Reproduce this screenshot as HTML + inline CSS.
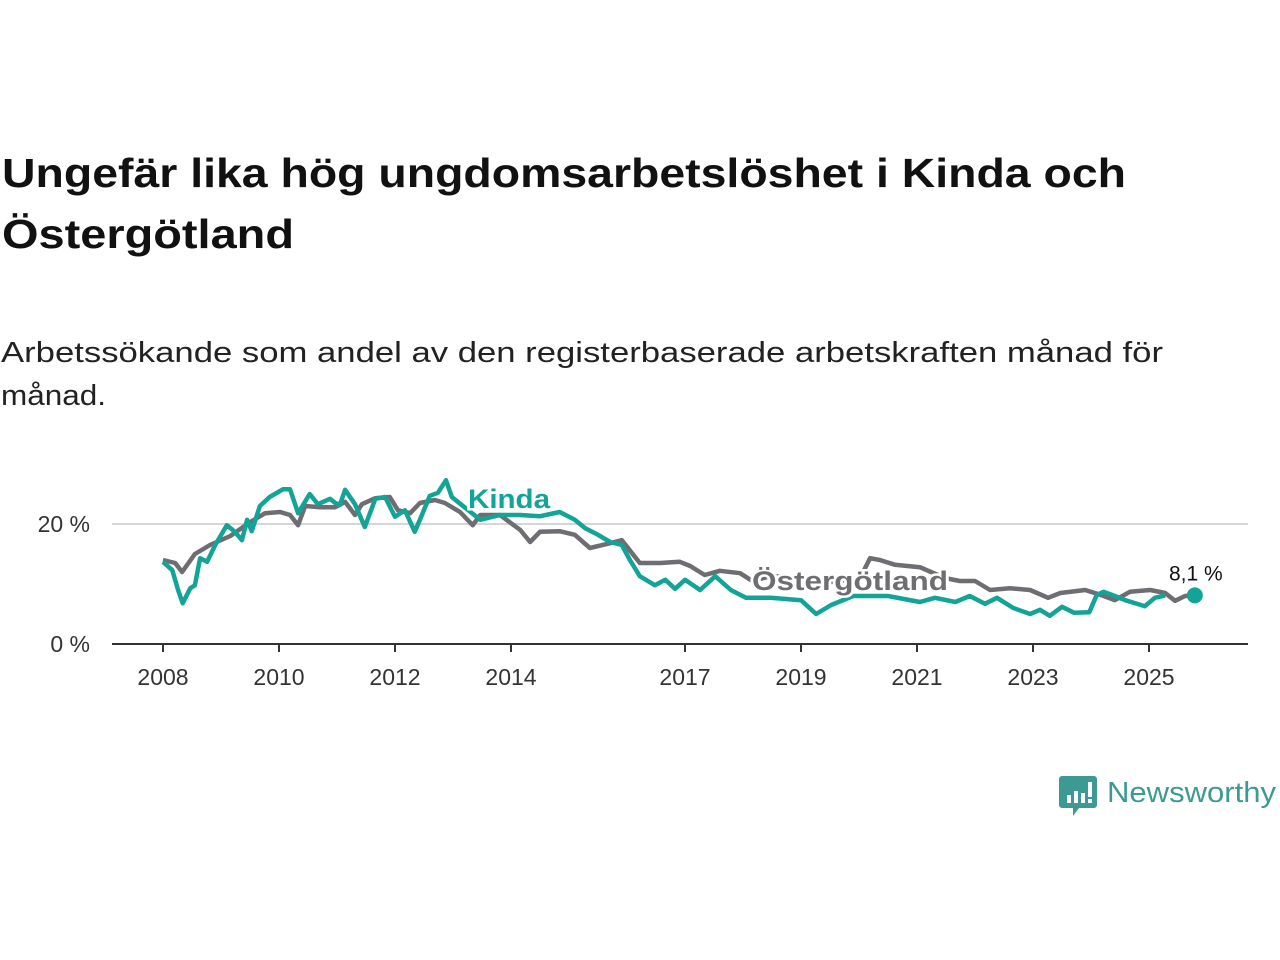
<!DOCTYPE html>
<html><head><meta charset="utf-8"><style>
html,body{margin:0;padding:0;background:#fff;}
svg{display:block;font-family:"Liberation Sans",sans-serif;}
</style></head><body>
<svg id="chart" width="1280" height="960" viewBox="0 0 1280 960" xmlns="http://www.w3.org/2000/svg">
<text x="2" y="187" font-size="41" font-weight="bold" fill="#111" textLength="1124" lengthAdjust="spacingAndGlyphs">Ungefär lika hög ungdomsarbetslöshet i Kinda och</text>
<text x="2" y="248" font-size="41" font-weight="bold" fill="#111" textLength="292" lengthAdjust="spacingAndGlyphs">Östergötland</text>
<text x="1" y="362" font-size="29" fill="#222" textLength="1162" lengthAdjust="spacingAndGlyphs">Arbetssökande som andel av den registerbaserade arbetskraften månad för</text>
<text x="1" y="405" font-size="29" fill="#222" textLength="105" lengthAdjust="spacingAndGlyphs">månad.</text>
<g id="axes"></g>
<g id="series"></g>
<g id="labels"></g>
<g>
<path d="M1062 776 h32 a3 3 0 0 1 3 3 v26 a3 3 0 0 1 -3 3 h-15 l-6 8 v-8 h-11 a3 3 0 0 1 -3 -3 v-26 a3 3 0 0 1 3 -3z" fill="#3d9a93"/>
<rect x="1067" y="795" width="4" height="8" fill="#fff"/><rect x="1074" y="791" width="4" height="12" fill="#fff"/><rect x="1081" y="793" width="4" height="10" fill="#fff"/><rect x="1088" y="782" width="4" height="15" fill="#fff"/><rect x="1088" y="799" width="4" height="4" fill="#fff"/>
<text x="1107" y="802" font-size="29" fill="#3d9a93" textLength="169" lengthAdjust="spacingAndGlyphs">Newsworthy</text>
</g>
</svg>
<script>
const yearTicks = [2008, 2010, 2012, 2014, 2017, 2019, 2021, 2023, 2025];
const yTicks = [0, 20];
const ostDates = [2008.00,2008.21,2008.33,2008.55,2008.81,2009.16,2009.50,2009.76,2010.02,2010.19,2010.33,2010.45,2010.71,2010.97,2011.14,2011.31,2011.43,2011.66,2011.91,2012.05,2012.26,2012.43,2012.69,2012.86,2013.12,2013.34,2013.47,2013.81,2014.16,2014.33,2014.50,2014.84,2015.10,2015.36,2015.71,2015.91,2016.22,2016.57,2016.91,2017.09,2017.34,2017.60,2017.95,2018.16,2018.47,2018.81,2018.98,2019.50,2020.02,2020.19,2020.36,2020.62,2021.05,2021.48,2021.74,2022.00,2022.26,2022.60,2022.95,2023.26,2023.47,2023.90,2024.16,2024.41,2024.67,2025.02,2025.28,2025.45,2025.62,2025.79];
const ostValues = [14,13.5,12,15,16.5,18,20.3,21.8,22,21.5,19.8,23,22.8,22.8,23.7,21.5,23.3,24.3,24.5,22.3,21.8,23.5,24,23.5,22,19.8,21.5,21.5,19,17,18.7,18.8,18.2,16,16.8,17.3,13.5,13.5,13.7,13,11.5,12.2,11.8,10.5,11.3,11.2,10,10.3,11,14.3,14,13.2,12.8,11,10.5,10.5,9,9.3,9,7.7,8.5,9,8.2,7.3,8.7,9,8.5,7.2,8,8.1];
const kinDates = [2008.00,2008.16,2008.26,2008.34,2008.47,2008.55,2008.64,2008.76,2008.90,2009.10,2009.24,2009.36,2009.45,2009.53,2009.67,2009.84,2010.07,2010.19,2010.33,2010.53,2010.67,2010.88,2010.97,2011.05,2011.14,2011.31,2011.48,2011.66,2011.83,2012.00,2012.17,2012.34,2012.43,2012.60,2012.74,2012.88,2012.98,2013.21,2013.47,2013.81,2014.16,2014.50,2014.84,2015.10,2015.28,2015.50,2015.71,2015.91,2016.05,2016.22,2016.48,2016.66,2016.83,2017.00,2017.26,2017.52,2017.79,2018.05,2018.48,2019.00,2019.26,2019.52,2019.90,2020.50,2021.05,2021.31,2021.66,2021.91,2022.17,2022.38,2022.66,2022.95,2023.12,2023.29,2023.50,2023.71,2023.97,2024.10,2024.22,2024.41,2024.59,2024.93,2025.10,2025.28,2025.55,2025.79];
const kinValues = [13.7,12.3,9,6.8,9.3,9.8,14.3,13.7,16.5,19.8,18.7,17.3,20.7,18.8,23,24.5,25.8,25.8,21.8,25,23.3,24.2,23.5,23.2,25.7,23.3,19.5,24.2,24.5,21.2,22.3,18.7,20.7,24.7,25.2,27.3,24.5,22.7,20.7,21.5,21.5,21.3,22,20.7,19.3,18.2,17,16.5,14,11.3,9.8,10.7,9.2,10.7,9,11.3,9,7.7,7.7,7.3,5,6.5,8,8,7,7.7,7,8,6.7,7.7,6,5,5.7,4.7,6.2,5.2,5.3,8.2,8.7,8,7.3,6.3,7.7,8.1];
const NS = 'http://www.w3.org/2000/svg';
const xScale = y => 163 + (y - 2008) * 58;
const yScale = v => 644 - v * 6;
function mk(tag, attrs, parent) { const e = document.createElementNS(NS, tag); for (const k in attrs) e.setAttribute(k, attrs[k]); parent.appendChild(e); return e; }
const axes = document.getElementById('axes');
yTicks.forEach(v => {
  if (v > 0) {
    const g = mk('line', {x1: 112, x2: 1248, y1: yScale(v), y2: yScale(v), stroke: '#d6d6d6', 'stroke-width': 2}, axes);
    
    
  }
  const t = mk('text', {x: 90, y: yScale(v) + 8, 'text-anchor': 'end', 'font-size': 23, fill: '#333'}, axes);
  
  
  t.textContent = v + ' %';
});
const ax = mk('line', {x1: 112, x2: 1248, y1: 644, y2: 644, stroke: '#333', 'stroke-width': 2}, axes);


yearTicks.forEach(yr => {
  const tk = mk('line', {x1: xScale(yr), x2: xScale(yr), y1: 644, y2: 652, stroke: '#333', 'stroke-width': 2}, axes);
  
  
  const t = mk('text', {x: xScale(yr), y: 685, 'text-anchor': 'middle', 'font-size': 23, fill: '#333'}, axes);
  
  
  t.textContent = yr;
});
const series = document.getElementById('series');
function line(dates, vals, color, name) {
  const d = dates.map((x, i) => (i ? 'L' : 'M') + xScale(x).toFixed(1) + ' ' + yScale(vals[i]).toFixed(1)).join(' ');
  const p = mk('path', {d: d, fill: 'none', stroke: color, 'stroke-width': 4.5, 'stroke-linejoin': 'round'}, series);
  
  
}
line(ostDates, ostValues, '#6e6d72', 'ostergotland-line');
line(kinDates, kinValues, '#14a397', 'kinda-line');
const labels = document.getElementById('labels');
const lastX = xScale(kinDates[kinDates.length - 1]), lastY = yScale(kinValues[kinValues.length - 1]);
const dot = mk('circle', {cx: lastX, cy: lastY, r: 8, fill: '#14a397'}, labels);


const vl = mk('text', {x: lastX + 1, y: lastY - 15, 'text-anchor': 'middle', 'font-size': 21, fill: '#111', stroke: '#fff', 'stroke-width': 4, 'paint-order': 'stroke'}, labels);


vl.textContent = String(kinValues[kinValues.length - 1]).replace('.', ',') + ' %';
const kl = mk('text', {x: 468, y: 508, 'font-size': 27, 'font-weight': 'bold', fill: '#14a397', stroke: '#fff', 'stroke-width': 5, 'paint-order': 'stroke', textLength: 82, lengthAdjust: 'spacingAndGlyphs'}, labels);


kl.textContent = 'Kinda';
const ol = mk('text', {x: 752, y: 590, 'font-size': 27, 'font-weight': 'bold', fill: '#6e6d72', stroke: '#fff', 'stroke-width': 5, 'paint-order': 'stroke', textLength: 196, lengthAdjust: 'spacingAndGlyphs'}, labels);


ol.textContent = 'Östergötland';
</script>
</body></html>
